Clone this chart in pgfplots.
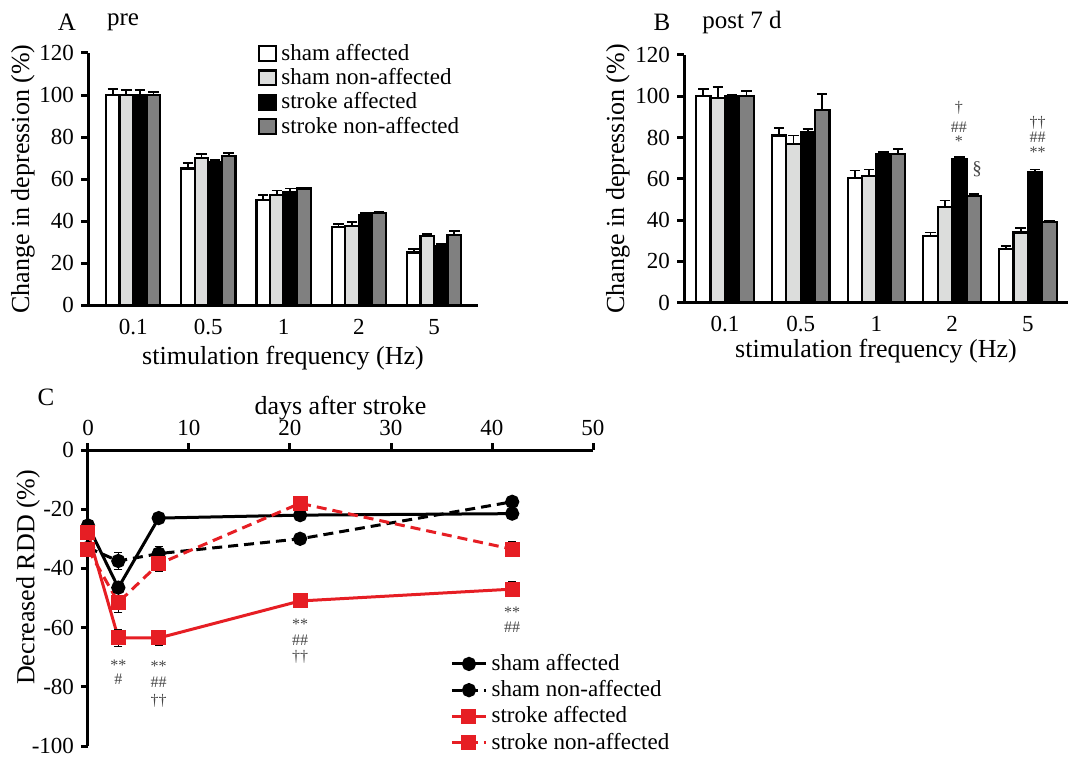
\documentclass[border=0pt]{standalone}
\usepackage{fontspec}
\setmainfont{Liberation Serif}
\usepackage{pgfplots}
\pgfplotsset{compat=1.18}

\definecolor{lgray}{RGB}{220,221,220}
\definecolor{dgray}{RGB}{128,128,128}
\definecolor{sred}{RGB}{230,30,36}
\definecolor{anno}{RGB}{70,70,70}

\tikzset{an/.style={anno, font=\fontsize{8}{8.5}\selectfont, inner sep=0pt}}

\pgfplotsset{
  barax/.style={
    scale only axis, anchor=south west, axis on top,
    ybar=0pt, bar width=0.18,
    axis x line=bottom, axis y line=left,
    axis line style={line width=1.5pt,-},
    ymin=0, ymax=120, ytick={0,20,...,120},
    xtick={0,...,4}, xticklabels={0.1,0.5,1,2,5},
    xtick style={draw=none},
    ytick style={line width=1.5pt,black},
    tick align=outside, major tick length=3.5pt,
    /pgf/number format/assume math mode=true,
    ticklabel style={font=\fontsize{11.5}{13}\selectfont},
    xticklabel style={anchor=center, yshift=-7.5pt},
    label style={font=\fontsize{13}{15}\selectfont},
    xlabel={stimulation frequency (Hz)},
    ylabel={Change in depression (\%)},
    xlabel style={at={(rel axis cs:0.5,0)}, anchor=center, yshift=-26.5pt},
    ylabel style={at={(rel axis cs:0,0.5)}, anchor=center, yshift=32.5pt},
  },
  bars/.style={draw=black, line width=1.1pt, fill=#1,
    legend image code/.code={\draw[##1,line width=1.1pt] (0pt,-3.6pt) rectangle (8.5pt,3.8pt);},
    error bars/.cd, y dir=plus, y explicit,
    error bar style={line width=0.9pt,black},
    error mark options={rotate=90,mark size=2.6pt,line width=0.9pt,black}},
}

\begin{document}
\begin{tikzpicture}[font=\fontsize{11.5}{13}\selectfont]
\useasboundingbox (0,0) rectangle (534pt,378pt);

% A: pre
\begin{axis}[barax, at={(44pt,225.5pt)}, width=195pt, height=126pt,
  xmin=-0.6, xmax=4.585,
  legend style={at={(rel axis cs:0.42,1.068)}, anchor=north west, draw=none, fill=none,
    font=\fontsize{11.5}{13}\selectfont, row sep=-1.5pt, cells={anchor=west}},
]
\addplot[bar shift=-0.27, bars=white] table[x=x,y=y,y error=e] {
x y e
0 100 3
1 65 2.5
2 50 2.5
3 37 1.5
4 25 1.5
};
\addlegendentry{sham affected}
\addplot[bar shift=-0.09, bars=lgray] table[x=x,y=y,y error=e] {
x y e
0 100 2.5
1 70 2
2 52.5 2
3 37.5 2
4 33 0.8
};
\addlegendentry{sham non-affected}
\addplot[bar shift=0.09, bars=black] table[x=x,y=y,y error=e] {
x y e
0 100 2.5
1 68 1
2 54 1.5
3 43 1
4 28 1
};
\addlegendentry{stroke affected}
\addplot[bar shift=0.27, bars=dgray] table[x=x,y=y,y error=e] {
x y e
0 100 1.5
1 71 1.5
2 55.5 0.5
3 44 0.5
4 33.5 1.8
};
\addlegendentry{stroke non-affected}
\end{axis}

% B: post 7 d
\begin{axis}[barax, at={(342pt,226.65pt)}, width=192pt, height=123.85pt,
  xmin=-0.54, xmax=4.53, bar width=0.19,
  xticklabel style={yshift=0.5pt}, xlabel style={yshift=2.5pt},
  ylabel style={yshift=0.5pt},
]
\addplot[bar shift=-0.285, bars=white] table[x=x,y=y,y error=e] {
x y e
0 100 3.5
1 81 3.5
2 60.5 3.5
3 32.5 1.5
4 26 1.5
};
\addplot[bar shift=-0.095, bars=lgray] table[x=x,y=y,y error=e] {
x y e
0 99 5.5
1 77 4
2 61.5 3
3 46.5 3
4 34 2
};
\addplot[bar shift=0.095, bars=black] table[x=x,y=y,y error=e] {
x y e
0 100 0.5
1 82.5 1.5
2 72 1
3 69.5 1
4 63.5 1
};
\addplot[bar shift=0.285, bars=dgray] table[x=x,y=y,y error=e] {
x y e
0 100 2.5
1 93.5 7.5
2 72 2.5
3 51.5 1
4 39 0.5
};
\node[an] at (axis cs:3.09,94.4) {†};
\node[an] at (axis cs:3.09,84.9) {\#\#};
\node[an] at (axis cs:3.09,78.2) {*};
\node[an, font=\fontsize{9.5}{10}\selectfont] at (axis cs:3.33,64.8) {§};
\node[an] at (axis cs:4.13,87.3) {††};
\node[an] at (axis cs:4.13,80.0) {\#\#};
\node[an] at (axis cs:4.13,72.8) {**};
\end{axis}

% C: time course
\begin{axis}[scale only axis, anchor=south west, at={(44pt,5pt)}, width=252.5pt, height=148pt,
  axis on top,
  xmin=0, xmax=50, ymin=-100, ymax=0,
  axis x line=top, axis y line=left, axis line style={line width=1.5pt,-},
  xtick={0,10,...,50}, ytick={-100,-80,...,0},
  tick align=outside, major tick length=3.5pt, tick style={line width=1.5pt,black},
  /pgf/number format/assume math mode=true,
  ticklabel style={font=\fontsize{11.5}{13}\selectfont},
  label style={font=\fontsize{13}{15}\selectfont},
  xlabel={days after stroke}, ylabel={Decreased RDD (\%)},
  xlabel style={yshift=-6.5pt},
  ylabel style={at={(rel axis cs:0,0.57)}, anchor=center, yshift=30pt},
  clip=false,
  legend style={at={(rel axis cs:0.705,0.338)}, anchor=north west, draw=none, fill=none,
    font=\fontsize{11.5}{13}\selectfont, row sep=-0.5pt, cells={anchor=west}},
]
\addplot[black, line width=1.5pt, mark=*, mark size=2.8pt,
  error bars/.cd, y dir=both, y explicit, error bar style={line width=0.5pt,solid},
  error mark options={rotate=90,mark size=2pt,line width=0.5pt,solid}]
  table[x=x,y=y,y error=e] {
x y e
0 -25.5 1
3 -46.5 1.5
7 -23 1
21 -22 1
42 -21.5 1
};
\addlegendentry{sham affected}
\addplot[black, line width=1.5pt, dash pattern=on 5pt off 3pt, mark=*, mark size=2.8pt, mark options={solid},
  error bars/.cd, y dir=both, y explicit, error bar style={line width=0.5pt,solid},
  error mark options={rotate=90,mark size=2pt,line width=0.5pt,solid}]
  table[x=x,y=y,y error=e] {
x y e
0 -33 1
3 -37.5 3
7 -35 2.5
21 -30 1
42 -17.5 1.5
};
\addlegendentry{sham non-affected}
\addplot[sred, line width=1.5pt, mark=square*, mark size=3pt,
  error bars/.cd, y dir=both, y explicit, error bar style={black,line width=0.5pt,solid},
  error mark options={black,rotate=90,mark size=2pt,line width=0.5pt,solid}]
  table[x=x,y=y,y error=e] {
x y e
0 -28 1.5
3 -63.5 3
7 -63.5 2.5
21 -51 2
42 -47 2.5
};
\addlegendentry{stroke affected}
\addplot[sred, line width=1.5pt, dash pattern=on 5pt off 3pt, mark=square*, mark size=3pt, mark options={solid},
  error bars/.cd, y dir=both, y explicit, error bar style={black,line width=0.5pt,solid},
  error mark options={black,rotate=90,mark size=2pt,line width=0.5pt,solid}]
  table[x=x,y=y,y error=e] {
x y e
0 -33.5 1.5
3 -51.5 3.5
7 -38.5 2.5
21 -18 2
42 -33.5 2.5
};
\addlegendentry{stroke non-affected}
\node[an] at (axis cs:3,-72.6) {**};
\node[an] at (axis cs:3,-77.6) {\#};
\node[an] at (axis cs:7,-73) {**};
\node[an] at (axis cs:7,-78.6) {\#\#};
\node[an] at (axis cs:7,-84.6) {††};
\node[an] at (axis cs:21,-59) {**};
\node[an] at (axis cs:21,-64.2) {\#\#};
\node[an] at (axis cs:21,-69.9) {††};
\node[an] at (axis cs:42,-54.7) {**};
\node[an] at (axis cs:42,-60) {\#\#};
\end{axis}

% panel titles
\node[font=\fontsize{12.5}{14}\selectfont] at (33.5pt,367pt) {A};
\node[font=\fontsize{12.5}{14}\selectfont] at (61.5pt,367pt) {pre};
\node[font=\fontsize{12.5}{14}\selectfont] at (331pt,367pt) {B};
\node[font=\fontsize{12.5}{14}\selectfont] at (371pt,367pt) {post 7 d};
\node[font=\fontsize{12.5}{14}\selectfont] at (23pt,179.5pt) {C};
\end{tikzpicture}
\end{document}
